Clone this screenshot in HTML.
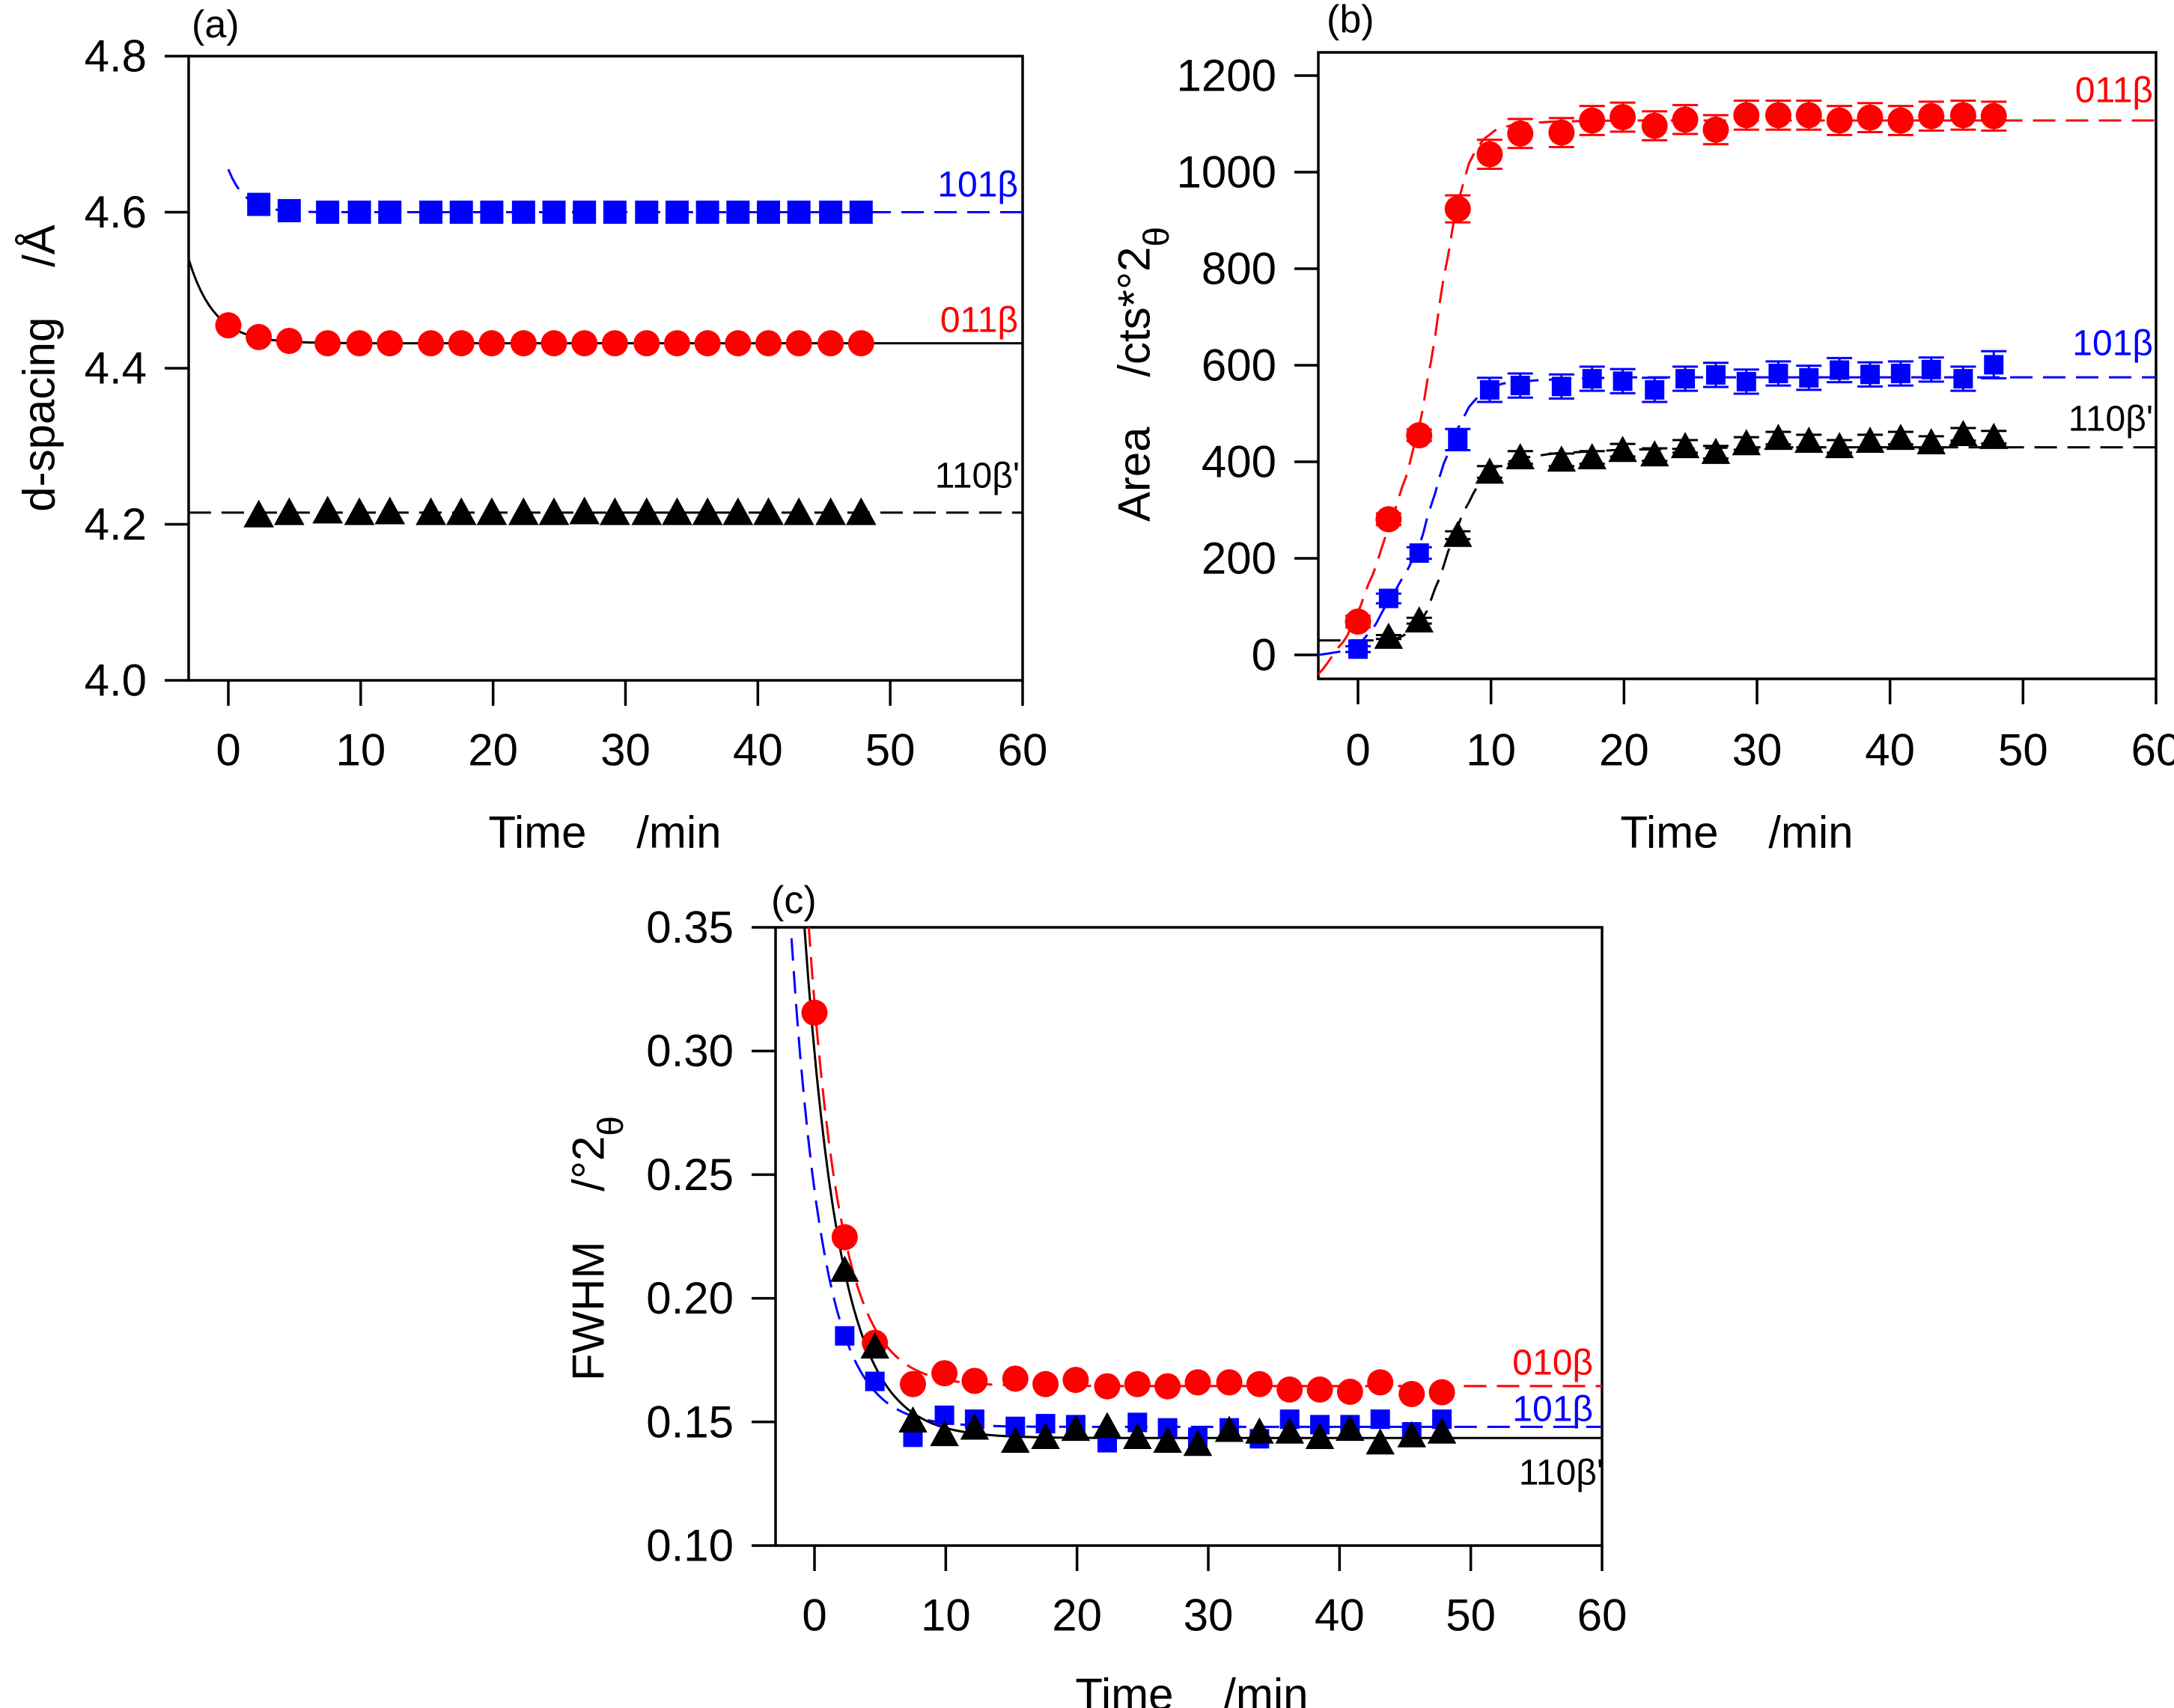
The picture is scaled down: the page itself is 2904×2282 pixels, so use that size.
<!DOCTYPE html>
<html><head><meta charset="utf-8"><style>
html,body{margin:0;padding:0;background:#fff}
svg{display:block}
text{font-family:"Liberation Sans",sans-serif}
.pre{white-space:pre}
</style></head><body>
<svg id="fig" width="2904" height="2282" viewBox="0 0 2904 2282" xmlns="http://www.w3.org/2000/svg"></svg>
<script>
// ---------- data ----------
const times = [0,2.3,4.6,7.5,9.9,12.2,15.3,17.6,19.9,22.3,24.6,26.9,29.2,31.6,33.9,36.2,38.5,40.8,43.1,45.5,47.8];
const tAfter0 = times.slice(1);
// panel a
const aRed = [4.455,4.44,4.435,4.432,4.432,4.432,4.432,4.432,4.432,4.432,4.432,4.432,4.432,4.432,4.432,4.432,4.432,4.432,4.432,4.432,4.432];
const aBlue = [4.61,4.602,4.6,4.6,4.6,4.6,4.6,4.6,4.6,4.6,4.6,4.6,4.6,4.6,4.6,4.6,4.6,4.6,4.6,4.6];
const aBlack = [4.212,4.215,4.217,4.215,4.216,4.215,4.215,4.215,4.215,4.215,4.216,4.215,4.215,4.215,4.215,4.215,4.215,4.215,4.215,4.215];
const aTicksY = [4.0,4.2,4.4,4.6,4.8];
const xTicks = [0,10,20,30,40,50,60];
// panel b
const bRed = [69,281,455,924,1037,1080,1082,1107,1114,1096,1109,1088,1118,1118,1118,1107,1113,1107,1116,1118,1116];
const bRedErr = [12,12,12,28,30,30,30,30,30,30,30,30,30,30,30,30,30,30,30,30,30];
const bBlue = [12,117,211,446,549,558,556,572,567,549,572,580,566,583,574,590,581,583,591,572,601];
const bBlueErr = [6,10,12,22,25,25,25,25,25,25,25,25,25,25,25,25,25,25,25,25,28];
const bBlack = [37,71,248,379,409,404,409,424,415,432,420,438,449,443,432,443,449,440,457,451];
const bBlackErr = [4,6,8,12,13,13,13,13,13,13,13,13,13,13,13,13,13,13,13,13];
const bTicksY = [0,200,400,600,800,1000,1200];
const bFitRedT = [-3,-1,0,1,2.3,3.5,4.6,5.5,6.5,7.5,8.5,9.5,10.5,12,15,20,60];
const bFitRedY = [-40,30,90,160,260,360,470,610,790,940,1030,1070,1090,1100,1105,1107,1107];
const bFitBlueT = [-3,-1,0,1,2.3,3.5,4.6,5.5,6.5,7.5,8.5,9.5,11,14,20,60];
const bFitBlueY = [0,8,20,50,110,165,225,310,400,470,520,548,563,570,575,575];
const bFitBlackT = [-3,0,2,3,4,5,6,7,8,9,10,12,15,20,30,60];
const bFitBlackY = [30,30,30,35,48,80,150,230,300,350,385,407,418,425,430,430];
// panel c
const cRed = [0.3155,0.2247,0.182,0.1653,0.1697,0.1666,0.1675,0.1653,0.167,0.1644,0.1653,0.1644,0.166,0.166,0.1653,0.1631,0.1631,0.1622,0.166,0.1613,0.162];
const cBlue = [0.1848,0.1664,0.1438,0.1527,0.1511,0.1482,0.1493,0.1489,0.1416,0.1498,0.1476,0.1438,0.1476,0.1432,0.1511,0.1489,0.1489,0.1511,0.146,0.1511];
const cBlack = [0.2114,0.1804,0.1505,0.145,0.1476,0.1423,0.1438,0.1471,0.1482,0.1438,0.1423,0.141,0.1467,0.146,0.146,0.1438,0.1471,0.1416,0.1445,0.146];
const cTicksY = [0.10,0.15,0.20,0.25,0.30,0.35];

const NS = "http://www.w3.org/2000/svg";
const svg = document.getElementById('fig');
function el(tag, attrs, parent){ const e=document.createElementNS(NS,tag); for(const k in attrs) e.setAttribute(k,attrs[k]); (parent||svg).appendChild(e); return e; }

function makePanel(p){
  const g = el('g',{});
  
  
  p.g = g;
  p.sx = t => p.x0 + (t - 0) * (p.x60 - p.x0) / 60;
  p.sy = v => p.yTop + (p.vTop - v) * (p.yBot - p.yTop) / (p.vTop - p.vBot);
  const clip = el('clipPath',{id:'clip-'+p.name}, g);
  el('rect',{x:p.left,y:p.top,width:p.right-p.left,height:p.bottom-p.top}, clip);
  const fr = el('rect',{x:p.left,y:p.top,width:p.right-p.left,height:p.bottom-p.top,fill:'none',stroke:'#000','stroke-width':3.5}, g);
  
  
  xTicks.forEach(t=>{
    const x=p.sx(t);
    el('line',{x1:x,x2:x,y1:p.bottom,y2:p.bottom+34,stroke:'#000','stroke-width':3.5}, g);
    const tx = el('text',{x:x,y:p.xLabelY,'font-size':60,'text-anchor':'middle','dominant-baseline':'central'}, g);
    tx.textContent = t;
    
    
  });
  p.yTicks.forEach(v=>{
    const y=p.sy(v);
    el('line',{x1:p.left-32,x2:p.left,y1:y,y2:y,stroke:'#000','stroke-width':3.5}, g);
    const tx = el('text',{x:p.left-56,y:y,'font-size':60,'text-anchor':'end','dominant-baseline':'central'}, g);
    tx.textContent = p.fmt(v);
    
    
  });
  const xt = el('text',{x:p.xTitleX,y:p.xTitleY,'font-size':60,'text-anchor':'middle','dominant-baseline':'central','class':'pre'}, g);
  xt.textContent = 'Time    /min';
  
  
  const pl = el('text',{x:p.tagX,y:p.tagY,'font-size':52,'dominant-baseline':'central'}, g);
  pl.textContent = p.tag;
  
  
  return p;
}
function curve(p, fn, t0, t1, color, dash, name){
  let d='';
  for(let i=0;i<=200;i++){ const t=t0+(t1-t0)*i/200; d+=(i?'L':'M')+p.sx(t).toFixed(1)+','+p.sy(fn(t)).toFixed(1); }
  const c = el('path',{d:d,fill:'none',stroke:color,'stroke-width':3,'stroke-dasharray':dash||'none','clip-path':'url(#clip-'+p.name+')'}, p.g);
  
  
}
function interp(T,Y){ return t=>{ if(t<=T[0]) return Y[0]; for(let i=1;i<T.length;i++){ if(t<=T[i]){ const a=(t-T[i-1])/(T[i]-T[i-1]); const s=a*a*(3-2*a); const lin=Y[i-1]+(Y[i]-Y[i-1])*a; return lin*0.7+(Y[i-1]+(Y[i]-Y[i-1])*s)*0.3; } } return Y[Y.length-1]; }; }
function marker(p, shape, x, y, color, size, name){
  let m;
  if(shape==='circle') m = el('ellipse',{cx:x,cy:y,rx:size/2,ry:size/2,fill:color}, p.g);
  else if(shape==='square') m = el('rect',{x:x-size/2,y:y-size/2,width:size,height:size,fill:color}, p.g);
  else m = el('polygon',{points:`${x},${y-size*0.55} ${x-size*0.55},${y+size*0.45} ${x+size*0.55},${y+size*0.45}`,fill:color}, p.g);
  
  
}
function series(p, T, V, shape, color, size, name, err){
  T.forEach((t,i)=>{
    const x=p.sx(t), y=p.sy(V[i]);
    if(err){
      const y1=p.sy(V[i]+err[i]), y2=p.sy(V[i]-err[i]);
      const eb = el('path',{d:`M${x},${y1}L${x},${y2}M${x-17},${y1}L${x+17},${y1}M${x-17},${y2}L${x+17},${y2}`,stroke:color,'stroke-width':3,fill:'none'}, p.g);
      
      
    }
    marker(p, shape, x, y, color, size, name+'-point');
  });
}
function label(p, txt, x, y, color, name){
  const t = el('text',{x:x,y:y,'font-size':48,'text-anchor':'end','dominant-baseline':'central',fill:color}, p.g);
  t.textContent = txt;
  
  
}
const DASH = '30 14';

// ---------- panel a ----------
const A = makePanel({name:'panel-a',left:252,right:1366,top:75,bottom:909,x0:305,x60:1366,yTop:75,yBot:909,vTop:4.8,vBot:4.0,
  yTicks:aTicksY,fmt:v=>v.toFixed(1),xLabelY:1002,xTitleX:808,xTitleY:1112,tag:'(a)',tagX:256,tagY:33});
curve(A, t=>4.215, -3, 60, '#000', DASH, 'fit-110-line');
curve(A, t=>4.432+0.108*Math.exp(-(t+3)/1.94), -3, 60, '#000', null, 'fit-011-line');
curve(A, t=>4.60+0.055*Math.exp(-t/1.27), 0, 60, '#0000ff', DASH, 'fit-101-line');
series(A, times, aRed, 'circle', '#ff0000', 35, 'a-011');
series(A, tAfter0, aBlue, 'square', '#0000ff', 31, 'a-101');
series(A, tAfter0, aBlack, 'triangle', '#000', 37, 'a-110');
label(A,'101β',1360,247,'#0000ff','label-101');
label(A,'011β',1360,428,'#ff0000','label-011');
label(A,'110β\'',1362,636,'#000','label-110');
{ const t = el('text',{transform:'translate(52,492) rotate(-90)','font-size':60,'text-anchor':'middle','dominant-baseline':'central','class':'pre'});
  t.textContent='d-spacing    /Å';
  
   }

// ---------- panel b ----------
const B = makePanel({name:'panel-b',left:1761,right:2880,top:70,bottom:907,x0:1814,x60:2880,yTop:101,yBot:875,vTop:1200,vBot:0,
  yTicks:bTicksY,fmt:v=>String(v),xLabelY:1002,xTitleX:2320,xTitleY:1112,tag:'(b)',tagX:1772,tagY:26});
curve(B, interp(bFitBlackT,bFitBlackY), -3, 60, '#000', DASH, 'fit-110-line');
curve(B, interp(bFitBlueT,bFitBlueY), -3, 60, '#0000ff', DASH, 'fit-101-line');
curve(B, interp(bFitRedT,bFitRedY), -3, 60, '#ff0000', DASH, 'fit-011-line');
series(B, tAfter0, bBlack, 'triangle', '#000', 35, 'b-110', bBlackErr);
series(B, times, bBlue, 'square', '#0000ff', 26, 'b-101', bBlueErr);
series(B, times, bRed, 'circle', '#ff0000', 35, 'b-011', bRedErr);
label(B,'011β',2876,121,'#ff0000','label-011');
label(B,'101β',2876,459,'#0000ff','label-101');
label(B,'110β\'',2876,560,'#000','label-110');
{ const t = el('text',{transform:'translate(1515,500) rotate(-90)','font-size':60,'text-anchor':'middle','dominant-baseline':'central','class':'pre'});
  
  
  t.appendChild(document.createTextNode('Area    /cts*°2'));
  const s = el('tspan',{dy:30,'font-size':48}, t); s.textContent='θ'; }

// ---------- panel c ----------
const C = makePanel({name:'panel-c',left:1036,right:2140,top:1239,bottom:2065,x0:1088,x60:2140,yTop:1239,yBot:2065,vTop:0.35,vBot:0.10,
  yTicks:cTicksY,fmt:v=>v.toFixed(2),xLabelY:2158,xTitleX:1592,xTitleY:2264,tag:'(c)',tagX:1030,tagY:1203});
curve(C, t=>0.1645+0.155*Math.exp(-t/2.43), -3, 60, '#ff0000', DASH, 'fit-010-line');
curve(C, t=>0.148+0.0957*Math.exp(-t/2.42), -3, 60, '#0000ff', DASH, 'fit-101-line');
curve(C, t=>0.1435+0.156*Math.exp(-t/2.74), -3, 60, '#000', null, 'fit-110-line');
series(C, times, cRed, 'circle', '#ff0000', 35, 'c-010');
series(C, tAfter0, cBlue, 'square', '#0000ff', 26, 'c-101');
series(C, tAfter0, cBlack, 'triangle', '#000', 35, 'c-110');
label(C,'010β',2128,1821,'#ff0000','label-010');
label(C,'101β',2128,1883,'#0000ff','label-101');
label(C,'110β\'',2142,1968,'#000','label-110');
{ const t = el('text',{transform:'translate(786,1668) rotate(-90)','font-size':60,'text-anchor':'middle','dominant-baseline':'central','class':'pre'});
  
  
  t.appendChild(document.createTextNode('FWHM    /°2'));
  const s = el('tspan',{dy:30,'font-size':48}, t); s.textContent='θ'; }
</script>
</body></html>
